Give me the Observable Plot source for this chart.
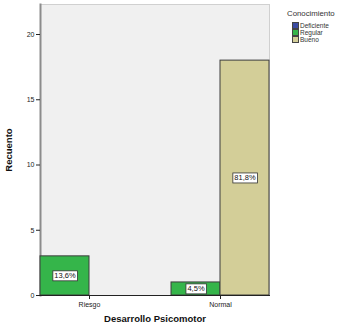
<!DOCTYPE html>
<html>
<head>
<meta charset="utf-8">
<script src="https://cdn.jsdelivr.net/npm/d3@7"></script>
<script src="https://cdn.jsdelivr.net/npm/@observablehq/plot@0.6"></script>
<style>
  html, body { margin: 0; padding: 0; background: #fff; }
  #wrap { position: relative; width: 337px; height: 325px; font-family: "Liberation Sans", Arial, sans-serif; }
  #legend { position: absolute; left: 286px; top: 9px; font-size: 6.5px; color: #333; }
  #legend .title { font-size: 7.8px; height: 10px; line-height: 10px; margin-bottom: 3px; margin-left: 1px; }
  #legend .item { display: flex; align-items: center; height: 7px; line-height: 7px; margin-left: 6px; }
  #legend .sw { width: 5px; height: 5px; border: 1px solid #444; margin-right: 1px; box-sizing: content-box; }
</style>
</head>
<body>
<div id="wrap"><div id="legend"></div></div>
<script>
// Categories
const groups = ["Riesgo", "Normal"];                 // Desarrollo Psicomotor
const levels = ["Deficiente", "Regular", "Bueno"];   // Conocimiento
const levelColors = ["#3a4ba3", "#35b54a", "#d3ce98"];
// Series values (counts per group)
const deficienteCounts = [0, 0];
const regularCounts = [3, 1];
const buenoCounts = [0, 18];
// Percent labels per group
const deficientePct = ["", ""];
const regularPct = ["13,6%", "4,5%"];
const buenoPct = ["", "81,8%"];
// Y tick values
const yTicks = [0, 5, 10, 15, 20];

const counts = { Deficiente: deficienteCounts, Regular: regularCounts, Bueno: buenoCounts };
const pcts = { Deficiente: deficientePct, Regular: regularPct, Bueno: buenoPct };
const rows = [];
groups.forEach((g, i) => levels.forEach(l => rows.push({ group: g, level: l, count: counts[l][i], pct: pcts[l][i] })));
const bars = rows.filter(d => d.count > 0);
const shownLevels = levels.filter(l => counts[l].some(v => v > 0));

const plot = Plot.plot({
  width: 337,
  height: 325,
  marginLeft: 28,
  marginRight: 55,
  marginTop: 4,
  marginBottom: 30,
  style: { fontFamily: "'Liberation Sans', Arial, sans-serif", fontSize: "7px", color: "#222", background: "transparent" },
  fx: { domain: groups, paddingInner: 0.25, paddingOuter: 0.09, label: null },
  x: { domain: shownLevels, padding: 0, axis: null },
  y: { domain: [0, 22.3], label: null },
  color: { domain: levels, range: levelColors },
  marks: [
    Plot.frame({ facet: "super", fill: "#f0f0f0", stroke: "#d0d0d0" }),
    Plot.frame({ facet: "super", anchor: "left", stroke: "#8c8c8c", strokeWidth: 2 }),
    Plot.barY(bars, { fx: "group", x: "level", y: "count", fill: "level", stroke: "#3c3c3c", strokeWidth: 1 }),
    Plot.text(bars, { fx: "group", x: "level", y: d => d.count / 2, text: "pct", fill: "#111", fontSize: 7.5 }),
    Plot.frame({ facet: "super", anchor: "bottom", stroke: "#222", strokeWidth: 1 }),
    Plot.axisY({ ticks: yTicks, tickSize: 4, tickPadding: 2, label: "Recuento", labelAnchor: "center", labelOffset: 35, labelArrow: "none" }),
    Plot.axisFx({ anchor: "bottom", tickSize: 4, tickPadding: 3, label: "Desarrollo Psicomotor", labelAnchor: "center", labelOffset: 26, labelArrow: "none" })
  ]
});

document.getElementById("wrap").appendChild(plot);
plot.style.position = "absolute";
plot.style.left = "0px";
plot.style.top = "0px";

d3.select(plot).selectAll('g[aria-label="y-axis label"] text, g[aria-label="fx-axis label"] text')
  .style("font-weight", "bold").style("font-size", "9.5px").style("fill", "#111");

d3.select(plot).selectAll('g[aria-label="text"] text').each(function () {
  const b = this.getBBox();
  d3.select(this.parentNode).insert("rect", () => this)
    .attr("x", b.x - 1.5).attr("y", b.y - 0.5)
    .attr("width", b.width + 3).attr("height", b.height + 1)
    .attr("fill", "#fff").attr("stroke", "#333").attr("stroke-width", 0.8)
    .attr("transform", this.getAttribute("transform"));
});

const legend = d3.select("#legend");
legend.append("div").attr("class", "title").text("Conocimiento");
levels.forEach((l, i) => {
  const it = legend.append("div").attr("class", "item");
  it.append("div").attr("class", "sw").style("background", levelColors[i]);
  it.append("span").text(l);
});
</script>
</body>
</html>
